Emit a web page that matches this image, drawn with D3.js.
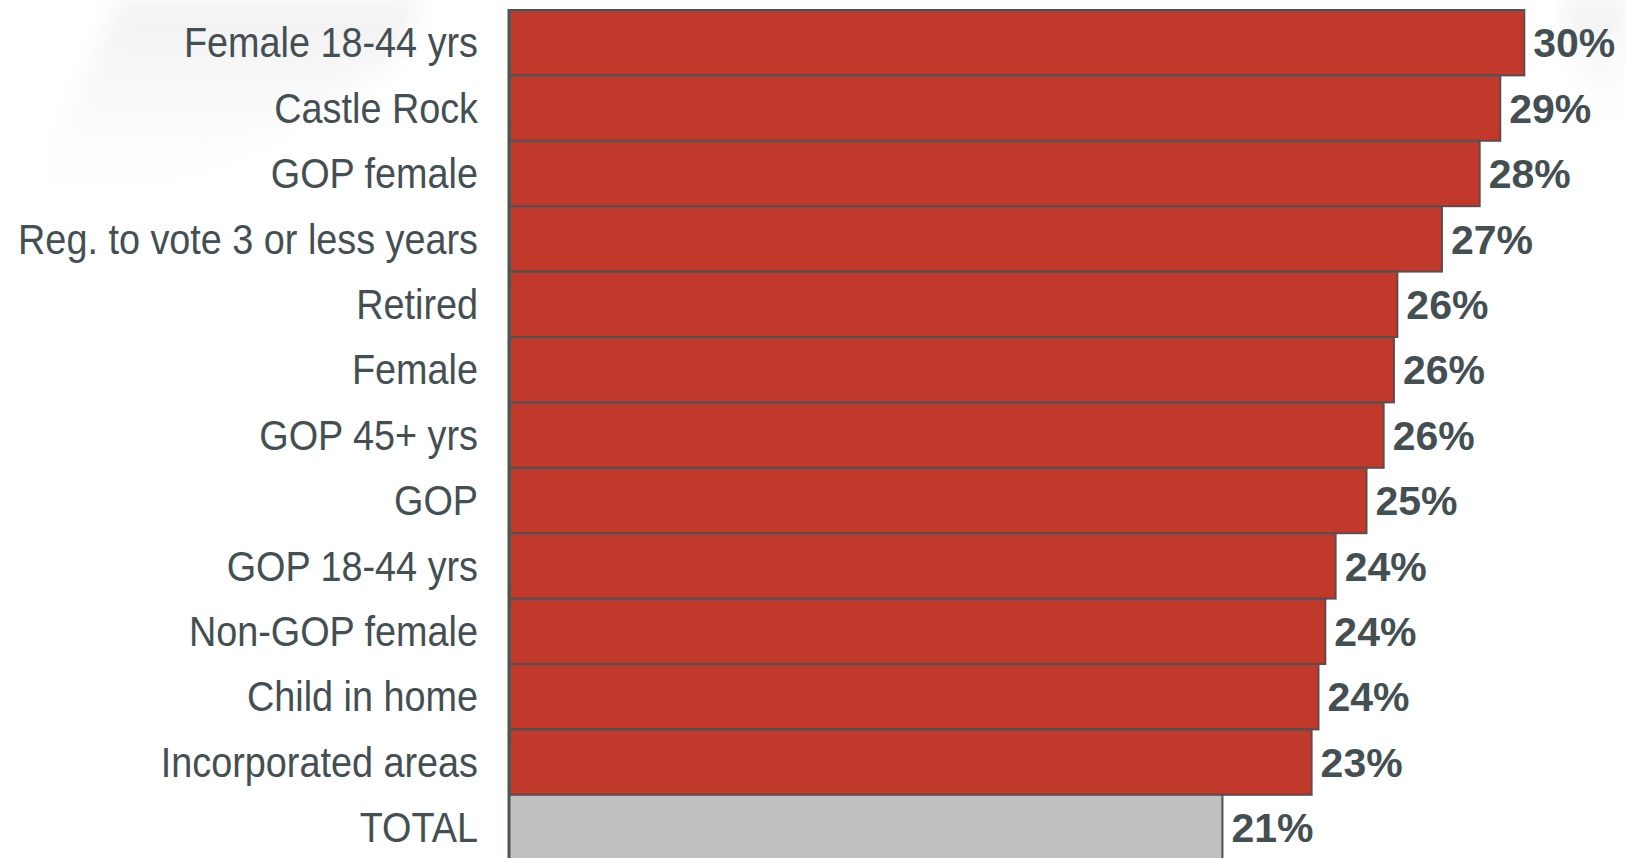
<!DOCTYPE html>
<html>
<head>
<meta charset="utf-8">
<script src="https://cdn.jsdelivr.net/npm/d3@7"></script>
<style>
  html, body { margin: 0; padding: 0; background: #fff; overflow: hidden; }
  svg { display: block; }
  .cat { font-family: "Liberation Sans", Arial, sans-serif; fill: #434f53; }
  .val { font-family: "Liberation Sans", Arial, sans-serif; font-weight: bold; fill: #434f53; }
</style>
</head>
<body>
<svg id="chart"></svg>
<script>
/* data */
var categories = ["Female 18-44 yrs", "Castle Rock", "GOP female", "Reg. to vote 3 or less years",
                  "Retired", "Female", "GOP 45+ yrs", "GOP", "GOP 18-44 yrs", "Non-GOP female",
                  "Child in home", "Incorporated areas", "TOTAL"];
var values = [29.6, 28.9, 28.3, 27.2, 25.9, 25.8, 25.5, 25.0, 24.1, 23.8, 23.6, 23.4, 20.8];
var highlight = "TOTAL";   // drawn in grey

var width = 1626,
    height = 858,
    margin = { top: 10, left: 509 },
    labelRight = 478,      // right edge of the category labels
    narrow = 0.9;          // horizontal squeeze, the original uses a condensed face

var data = categories.map(function (c, i) { return { name: c, value: values[i] }; });

var svg = d3.select("#chart")
    .attr("width", width)
    .attr("height", height);

/* faint background swoosh */
var defs = svg.append("defs");
var grad = defs.append("linearGradient").attr("id", "bgfade")
    .attr("x1", 0).attr("y1", 0).attr("x2", 0).attr("y2", 1);
grad.append("stop").attr("offset", "0%").attr("stop-color", "#ececec").attr("stop-opacity", 0.8);
grad.append("stop").attr("offset", "100%").attr("stop-color", "#ffffff").attr("stop-opacity", 0);
defs.append("filter").attr("id", "blur").append("feGaussianBlur").attr("stdDeviation", 12);

svg.append("path")
    .attr("d", "M120,0 L420,0 L400,60 L300,120 L130,220 L10,240 Z")
    .attr("fill", "url(#bgfade)")
    .attr("filter", "url(#blur)");
svg.append("path")
    .attr("d", "M1560,0 L1626,0 L1626,160 L1590,120 Z")
    .attr("fill", "url(#bgfade)")
    .attr("filter", "url(#blur)");

/* scales */
var xScale = d3.scaleLinear()
    .domain([0, 30])
    .range([margin.left, margin.left + 30 * 34.3]);

var yScale = d3.scaleBand()
    .domain(categories)
    .range([margin.top, margin.top + categories.length * 65.4])
    .padding(0);

/* bars */
svg.append("g").selectAll("rect")
    .data(data)
  .enter().append("rect")
    .attr("x", xScale(0))
    .attr("y", function (d) { return yScale(d.name); })
    .attr("width", function (d) { return xScale(d.value) - xScale(0); })
    .attr("height", yScale.bandwidth())
    .attr("fill", function (d) { return d.name === highlight ? "#c0c0c0" : "#c0392a"; })
    .attr("stroke", "#4a5458")
    .attr("stroke-width", 2);

/* vertical axis line */
svg.append("line")
    .attr("x1", xScale(0)).attr("x2", xScale(0))
    .attr("y1", margin.top - 1).attr("y2", height)
    .attr("stroke", "#4a5458")
    .attr("stroke-width", 3);

/* category labels */
svg.append("g").selectAll("text")
    .data(data)
  .enter().append("text")
    .attr("class", "cat")
    .attr("transform", function (d) {
        return "translate(" + labelRight + "," + (yScale(d.name) + yScale.bandwidth() / 2) + ") scale(" + narrow + ",1)";
    })
    .attr("dy", "0.35em")
    .attr("text-anchor", "end")
    .style("font-size", "42px")
    .text(function (d) { return d.name; });

/* value labels */
svg.append("g").selectAll("text")
    .data(data)
  .enter().append("text")
    .attr("class", "val")
    .attr("x", function (d) { return xScale(d.value) + 9; })
    .attr("y", function (d) { return yScale(d.name) + yScale.bandwidth() / 2; })
    .attr("dy", "0.36em")
    .style("font-size", "41px")
    .text(function (d) { return Math.round(d.value) + "%"; });
</script>
</body>
</html>
